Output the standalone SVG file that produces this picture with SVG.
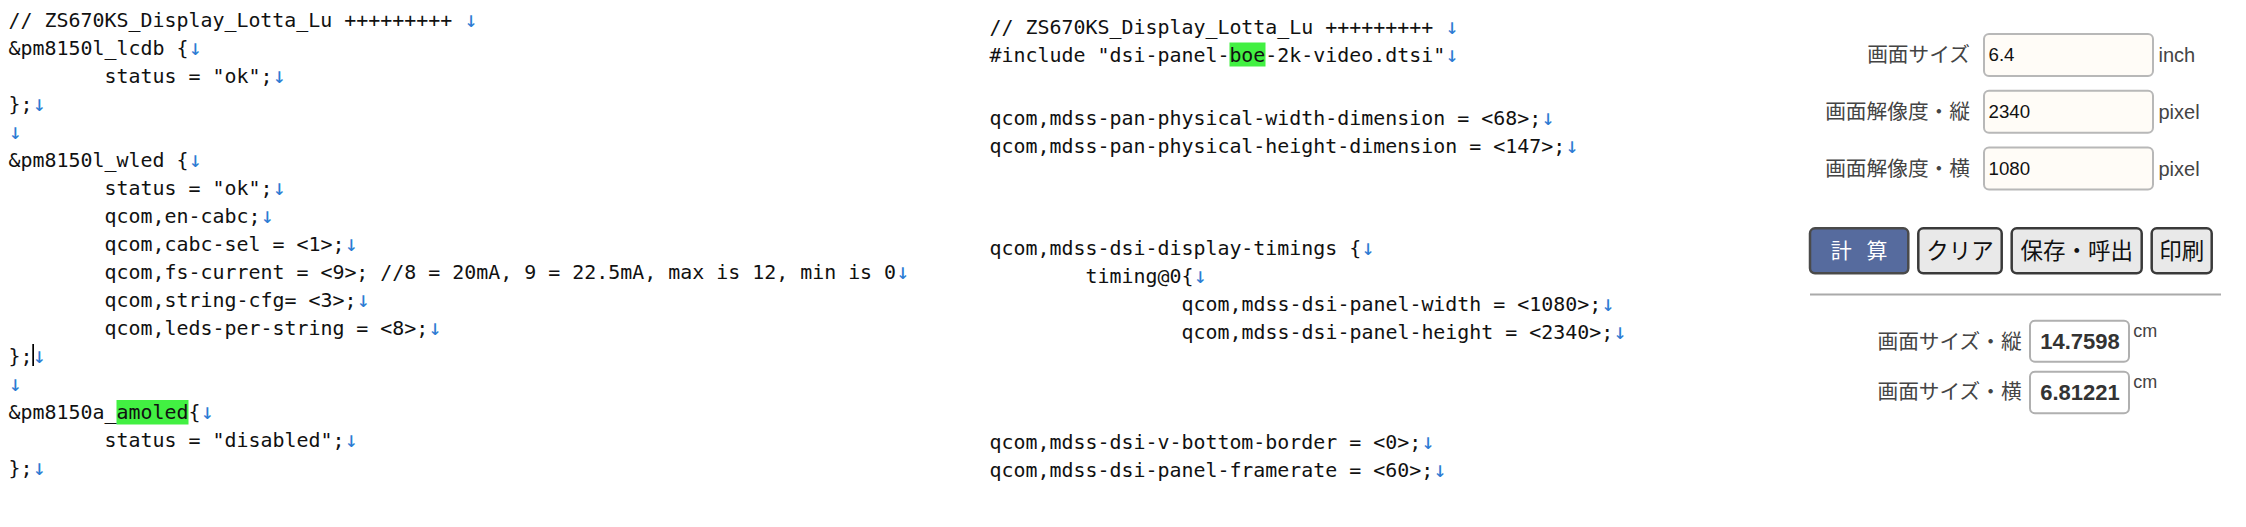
<svg xmlns="http://www.w3.org/2000/svg" width="2246" height="527" viewBox="0 0 2246 527">
<style>
.code{font-family:"DejaVu Sans Mono","Liberation Mono",monospace;font-size:19.93px;fill:#111;white-space:pre}
.nl{font-family:"DejaVu Sans Mono",monospace;font-size:22px;fill:#2b7bd3}
.hl{fill:#42f042}
.lbl{font-family:"Noto Sans CJK JP",sans-serif;font-size:20.7px;fill:#444;text-anchor:end}
.inp{fill:#fffcf7;stroke:#b8b8b8;stroke-width:2}
.inpt{font-family:"Liberation Sans",Arial,sans-serif;font-size:18.7px;fill:#111}
.unit{font-family:"Liberation Sans",Arial,sans-serif;font-size:20px;fill:#444}
.btn{fill:#e9e9e9;stroke:#3a3a3a;stroke-width:2.5}
.btnt{font-family:"Noto Sans CJK JP",sans-serif;font-size:22.5px;fill:#111;text-anchor:middle}
.res{fill:#fff;stroke:#b0b0b0;stroke-width:2}
.rest{font-family:"Liberation Sans",Arial,sans-serif;font-size:22px;font-weight:bold;fill:#333;text-anchor:middle}
.cm{font-family:"Liberation Sans",Arial,sans-serif;font-size:18px;fill:#444}
</style>
<rect x="0" y="0" width="2246" height="527" fill="#fff"/>

<g id="left-code">
<rect class="hl" x="116.5" y="400" width="72" height="24.5"/>
<text class="code" x="8.5" y="27">// ZS670KS_Display_Lotta_Lu +++++++++ <tspan class="nl">↓</tspan></text>
<text class="code" x="8.5" y="55">&amp;pm8150l_lcdb {<tspan class="nl">↓</tspan></text>
<text class="code" x="104.5" y="83">status = "ok";<tspan class="nl">↓</tspan></text>
<text class="code" x="8.5" y="111">};<tspan class="nl">↓</tspan></text>
<text class="code" x="8.5" y="139"><tspan class="nl">↓</tspan></text>
<text class="code" x="8.5" y="167">&amp;pm8150l_wled {<tspan class="nl">↓</tspan></text>
<text class="code" x="104.5" y="195">status = "ok";<tspan class="nl">↓</tspan></text>
<text class="code" x="104.5" y="223">qcom,en-cabc;<tspan class="nl">↓</tspan></text>
<text class="code" x="104.5" y="251">qcom,cabc-sel = &lt;1&gt;;<tspan class="nl">↓</tspan></text>
<text class="code" x="104.5" y="279">qcom,fs-current = &lt;9&gt;; //8 = 20mA, 9 = 22.5mA, max is 12, min is 0<tspan class="nl">↓</tspan></text>
<text class="code" x="104.5" y="307">qcom,string-cfg= &lt;3&gt;;<tspan class="nl">↓</tspan></text>
<text class="code" x="104.5" y="335">qcom,leds-per-string = &lt;8&gt;;<tspan class="nl">↓</tspan></text>
<text class="code" x="8.5" y="363">};<tspan class="nl">↓</tspan></text>
<rect x="32.3" y="344" width="1.7" height="22" fill="#000"/>
<text class="code" x="8.5" y="391"><tspan class="nl">↓</tspan></text>
<text class="code" x="8.5" y="419">&amp;pm8150a_amoled{<tspan class="nl">↓</tspan></text>
<text class="code" x="104.5" y="447">status = "disabled";<tspan class="nl">↓</tspan></text>
<text class="code" x="8.5" y="475">};<tspan class="nl">↓</tspan></text>
</g>

<g id="middle-code">
<rect class="hl" x="1229.5" y="42.5" width="36" height="24"/>
<text class="code" x="989.5" y="34">// ZS670KS_Display_Lotta_Lu +++++++++ <tspan class="nl">↓</tspan></text>
<text class="code" x="989.5" y="62">#include "dsi-panel-boe-2k-video.dtsi"<tspan class="nl">↓</tspan></text>
<text class="code" x="989.5" y="125">qcom,mdss-pan-physical-width-dimension = &lt;68&gt;;<tspan class="nl">↓</tspan></text>
<text class="code" x="989.5" y="153">qcom,mdss-pan-physical-height-dimension = &lt;147&gt;;<tspan class="nl">↓</tspan></text>
<text class="code" x="989.5" y="255">qcom,mdss-dsi-display-timings {<tspan class="nl">↓</tspan></text>
<text class="code" x="1085.5" y="283">timing@0{<tspan class="nl">↓</tspan></text>
<text class="code" x="1181.5" y="311">qcom,mdss-dsi-panel-width = &lt;1080&gt;;<tspan class="nl">↓</tspan></text>
<text class="code" x="1181.5" y="339">qcom,mdss-dsi-panel-height = &lt;2340&gt;;<tspan class="nl">↓</tspan></text>
<text class="code" x="989.5" y="449">qcom,mdss-dsi-v-bottom-border = &lt;0&gt;;<tspan class="nl">↓</tspan></text>
<text class="code" x="989.5" y="477">qcom,mdss-dsi-panel-framerate = &lt;60&gt;;<tspan class="nl">↓</tspan></text>
</g>

<g id="form">
<g id="row-size">
<text class="lbl" x="1970" y="62">画面サイズ</text>
<rect class="inp" x="1984" y="34" width="169" height="42" rx="5"/>
<text class="inpt" x="1988.5" y="60.5">6.4</text>
<text class="unit" x="2158.5" y="61.5">inch</text>
</g>
<g id="row-vert">
<text class="lbl" x="1970" y="118.8">画面解像度・縦</text>
<rect class="inp" x="1984" y="90.8" width="169" height="42" rx="5"/>
<text class="inpt" x="1988.5" y="117.5">2340</text>
<text class="unit" x="2158.5" y="119">pixel</text>
</g>
<g id="row-horiz">
<text class="lbl" x="1970" y="175.6">画面解像度・横</text>
<rect class="inp" x="1984" y="147.6" width="169" height="42" rx="5"/>
<text class="inpt" x="1988.5" y="174.5">1080</text>
<text class="unit" x="2158.5" y="176">pixel</text>
</g>
<g id="btn-calc">
<rect x="1810" y="228.3" width="98.3" height="45" rx="5" fill="#566b9e" stroke="#4a4a4a" stroke-width="2.5"/>
<text x="1859.2" y="257.5" style="font-family:'Noto Sans CJK JP',sans-serif;font-size:21px;fill:#fff;text-anchor:middle;word-spacing:10px">計 算</text>
</g>
<g id="btn-clear">
<rect class="btn" x="1918.3" y="228.3" width="83.4" height="45" rx="5"/>
<text class="btnt" x="1960" y="258.5">クリア</text>
</g>
<g id="btn-save">
<rect class="btn" x="2011.7" y="228.3" width="130" height="45" rx="5"/>
<text class="btnt" x="2076.7" y="258.5">保存・呼出</text>
</g>
<g id="btn-print">
<rect class="btn" x="2151.7" y="228.3" width="60" height="45" rx="5"/>
<text class="btnt" x="2181.7" y="258.5">印刷</text>
</g>
<line id="rule" x1="1810" y1="294.5" x2="2221" y2="294.5" stroke="#aaa" stroke-width="2"/>
<g id="res-vert">
<text class="lbl" x="2021.7" y="349">画面サイズ・縦</text>
<rect class="res" x="2030" y="320.7" width="99" height="41" rx="5"/>
<text class="rest" x="2080" y="349.3">14.7598</text>
<text class="cm" x="2133.3" y="336.7">cm</text>
</g>
<g id="res-horiz">
<text class="lbl" x="2021.7" y="399">画面サイズ・横</text>
<rect class="res" x="2030" y="371.7" width="99" height="41.6" rx="5"/>
<text class="rest" x="2080" y="400">6.81221</text>
<text class="cm" x="2133.3" y="388.3">cm</text>
</g>
</g>
</svg>
